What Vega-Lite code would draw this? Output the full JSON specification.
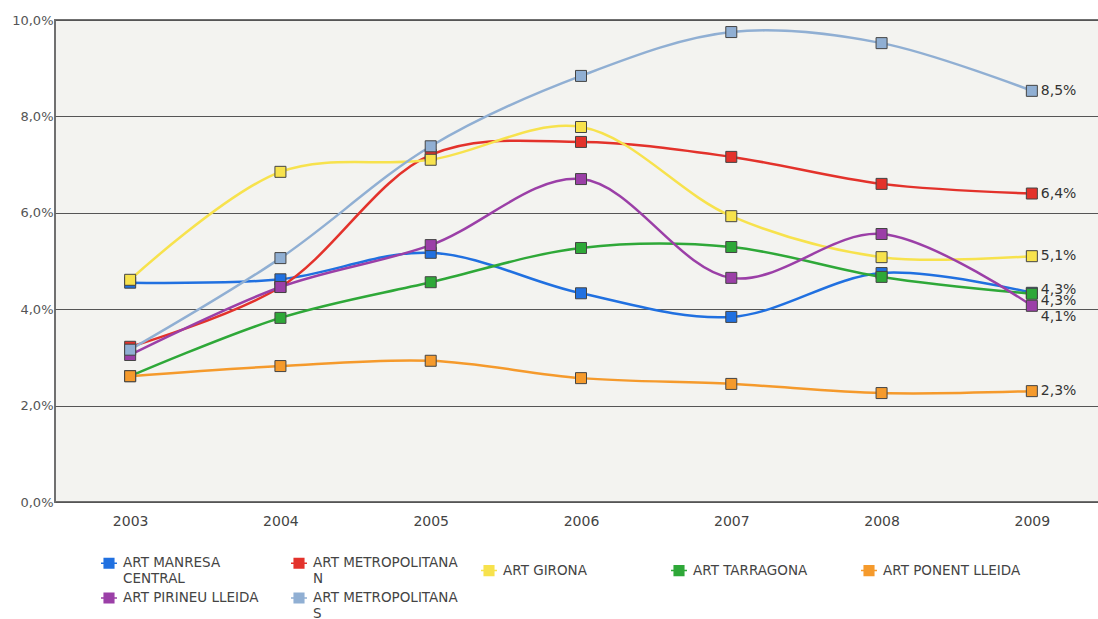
{
  "$schema": "https://vega.github.io/schema/vega-lite/v6.json",
  "autosize": "none",
  "padding": {"left": 55, "top": 20, "right": 0, "bottom": 117},
  "width": 1052,
  "height": 482,
  "background": "white",
  "config": {
    "locale": {"number": {"decimal": ",", "thousands": ".", "grouping": [3], "currency": ["", " €"]}},
    "view": {"fill": "#f3f3f0", "stroke": "#707070", "strokeWidth": 2},
    "font": "DejaVu Sans"
  },
  "data": {
    "values": [
      {"year": "2003", "series": "ART MANRESA CENTRAL", "value": 0.0455},
      {"year": "2004", "series": "ART MANRESA CENTRAL", "value": 0.0462},
      {"year": "2005", "series": "ART MANRESA CENTRAL", "value": 0.0517},
      {"year": "2006", "series": "ART MANRESA CENTRAL", "value": 0.0433},
      {"year": "2007", "series": "ART MANRESA CENTRAL", "value": 0.0384},
      {"year": "2008", "series": "ART MANRESA CENTRAL", "value": 0.0475},
      {"year": "2009", "series": "ART MANRESA CENTRAL", "value": 0.0434},
      {"year": "2003", "series": "ART METROPOLITANA N", "value": 0.0322},
      {"year": "2004", "series": "ART METROPOLITANA N", "value": 0.0446},
      {"year": "2005", "series": "ART METROPOLITANA N", "value": 0.0720},
      {"year": "2006", "series": "ART METROPOLITANA N", "value": 0.0747},
      {"year": "2007", "series": "ART METROPOLITANA N", "value": 0.0716},
      {"year": "2008", "series": "ART METROPOLITANA N", "value": 0.0660},
      {"year": "2009", "series": "ART METROPOLITANA N", "value": 0.0640},
      {"year": "2003", "series": "ART GIRONA", "value": 0.0461},
      {"year": "2004", "series": "ART GIRONA", "value": 0.0685},
      {"year": "2005", "series": "ART GIRONA", "value": 0.0710},
      {"year": "2006", "series": "ART GIRONA", "value": 0.0778},
      {"year": "2007", "series": "ART GIRONA", "value": 0.0593},
      {"year": "2008", "series": "ART GIRONA", "value": 0.0508},
      {"year": "2009", "series": "ART GIRONA", "value": 0.0510},
      {"year": "2003", "series": "ART TARRAGONA", "value": 0.0261},
      {"year": "2004", "series": "ART TARRAGONA", "value": 0.0382},
      {"year": "2005", "series": "ART TARRAGONA", "value": 0.0456},
      {"year": "2006", "series": "ART TARRAGONA", "value": 0.0527},
      {"year": "2007", "series": "ART TARRAGONA", "value": 0.0529},
      {"year": "2008", "series": "ART TARRAGONA", "value": 0.0467},
      {"year": "2009", "series": "ART TARRAGONA", "value": 0.0432},
      {"year": "2003", "series": "ART PONENT LLEIDA", "value": 0.0261},
      {"year": "2004", "series": "ART PONENT LLEIDA", "value": 0.0282},
      {"year": "2005", "series": "ART PONENT LLEIDA", "value": 0.0293},
      {"year": "2006", "series": "ART PONENT LLEIDA", "value": 0.0257},
      {"year": "2007", "series": "ART PONENT LLEIDA", "value": 0.0245},
      {"year": "2008", "series": "ART PONENT LLEIDA", "value": 0.0226},
      {"year": "2009", "series": "ART PONENT LLEIDA", "value": 0.0230},
      {"year": "2003", "series": "ART PIRINEU LLEIDA", "value": 0.0305},
      {"year": "2004", "series": "ART PIRINEU LLEIDA", "value": 0.0446},
      {"year": "2005", "series": "ART PIRINEU LLEIDA", "value": 0.0533},
      {"year": "2006", "series": "ART PIRINEU LLEIDA", "value": 0.0670},
      {"year": "2007", "series": "ART PIRINEU LLEIDA", "value": 0.0465},
      {"year": "2008", "series": "ART PIRINEU LLEIDA", "value": 0.0556},
      {"year": "2009", "series": "ART PIRINEU LLEIDA", "value": 0.0407},
      {"year": "2003", "series": "ART METROPOLITANA S", "value": 0.0316},
      {"year": "2004", "series": "ART METROPOLITANA S", "value": 0.0506},
      {"year": "2005", "series": "ART METROPOLITANA S", "value": 0.0738},
      {"year": "2006", "series": "ART METROPOLITANA S", "value": 0.0884},
      {"year": "2007", "series": "ART METROPOLITANA S", "value": 0.0975},
      {"year": "2008", "series": "ART METROPOLITANA S", "value": 0.0952},
      {"year": "2009", "series": "ART METROPOLITANA S", "value": 0.0853}
    ]
  },
  "encoding": {
    "x": {
      "field": "year", "type": "ordinal",
      "scale": {"type": "point", "padding": 0.5},
      "axis": {"title": null, "labelAngle": 0, "ticks": false, "domain": false, "grid": false,
               "labelFont": "DejaVu Sans", "labelFontSize": 14, "labelColor": "#444", "labelPadding": 12}
    },
    "y": {
      "field": "value", "type": "quantitative",
      "scale": {"domain": [0, 0.1], "nice": false},
      "axis": {"title": null, "values": [0, 0.02, 0.04, 0.06, 0.08, 0.1], "format": ".1%",
               "ticks": false, "domain": false, "grid": true, "gridColor": "#555", "gridWidth": 1, "gridOpacity": 1,
               "labelFont": "DejaVu Sans", "labelFontSize": 13, "labelColor": "#555", "labelPadding": 2}
    },
    "color": {
      "field": "series", "type": "nominal",
      "scale": {
        "domain": ["ART MANRESA CENTRAL", "ART METROPOLITANA N", "ART GIRONA", "ART TARRAGONA", "ART PONENT LLEIDA", "ART PIRINEU LLEIDA", "ART METROPOLITANA S"],
        "range": ["#2070e0", "#e3322b", "#f7e24d", "#2ea838", "#f59a2c", "#9b3fa7", "#90afd3"]
      },
      "legend": {
        "title": null, "orient": "none", "legendX": 45, "legendY": 534,
        "direction": "horizontal", "columns": 5, "gridAlign": "all", "columnPadding": 20, "rowPadding": 3,
        "symbolType": "M-1,0H-0.6M0.6,0H1M-0.6,-0.6H0.6V0.6H-0.6Z", "symbolSize": 256, "symbolStrokeWidth": 1.5,
        "labelFont": "DejaVu Sans", "labelFontSize": 13.5, "labelColor": "#444", "labelLimit": 300, "labelOffset": 5,
        "labelExpr": "datum.label == 'ART MANRESA CENTRAL' ? ['ART MANRESA', 'CENTRAL'] : datum.label == 'ART METROPOLITANA N' ? ['ART METROPOLITANA', 'N'] : datum.label == 'ART METROPOLITANA S' ? ['ART METROPOLITANA', 'S'] : datum.label",
        "encode": {
          "symbols": {"update": {"fill": {"scale": "color", "field": "value"}, "stroke": {"scale": "color", "field": "value"}, "opacity": {"value": 1}}},
          "labels": {"update": {"lineHeight": {"value": 16}}}
        }
      }
    }
  },
  "layer": [
    {
      "mark": {"type": "line", "interpolate": "catmull-rom", "strokeWidth": 2.5}
    },
    {
      "mark": {"type": "point", "shape": "square", "filled": true, "size": 121, "stroke": "#444", "strokeWidth": 1, "opacity": 1}
    },
    {
      "transform": [{"filter": "datum.year == '2009' && datum.series != 'ART TARRAGONA' && datum.series != 'ART PIRINEU LLEIDA' && datum.series != 'ART MANRESA CENTRAL'"}],
      "mark": {"type": "text", "align": "left", "baseline": "middle", "dx": 9, "fontSize": 14, "font": "DejaVu Sans"},
      "encoding": {"text": {"field": "value", "type": "quantitative", "format": ".1%"}, "color": {"value": "#333"}}
    },
    {
      "transform": [{"filter": "datum.year == '2009' && datum.series == 'ART MANRESA CENTRAL'"}],
      "mark": {"type": "text", "align": "left", "baseline": "middle", "dx": 9, "dy": -3, "fontSize": 14, "font": "DejaVu Sans"},
      "encoding": {"text": {"field": "value", "type": "quantitative", "format": ".1%"}, "color": {"value": "#333"}}
    },
    {
      "transform": [{"filter": "datum.year == '2009' && datum.series == 'ART TARRAGONA'"}],
      "mark": {"type": "text", "align": "left", "baseline": "middle", "dx": 9, "dy": 7, "fontSize": 14, "font": "DejaVu Sans"},
      "encoding": {"text": {"field": "value", "type": "quantitative", "format": ".1%"}, "color": {"value": "#333"}}
    },
    {
      "transform": [{"filter": "datum.year == '2009' && datum.series == 'ART PIRINEU LLEIDA'"}],
      "mark": {"type": "text", "align": "left", "baseline": "middle", "dx": 9, "dy": 11, "fontSize": 14, "font": "DejaVu Sans"},
      "encoding": {"text": {"field": "value", "type": "quantitative", "format": ".1%"}, "color": {"value": "#333"}}
    }
  ]
}
